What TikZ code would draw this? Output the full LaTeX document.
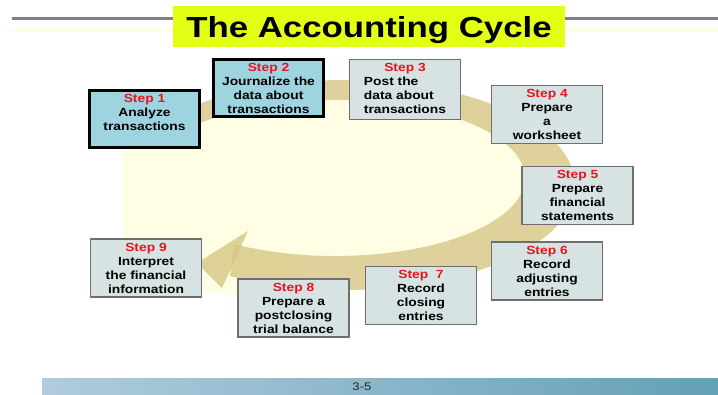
\documentclass[tikz,border=0pt]{standalone}
\usepackage{fontspec}
\setmainfont{Liberation Sans}
\newfontfamily\titlefont[FakeStretch=1.2]{Liberation Sans Bold}
\newfontfamily\stepfont[FakeStretch=1.17]{Liberation Sans Bold}
\newfontfamily\footfont[FakeStretch=1.2]{Liberation Sans}
\definecolor{titleyellow}{RGB}{226,255,20}
\definecolor{stepred}{RGB}{230,20,30}
\definecolor{keyblue}{RGB}{158,212,224}
\definecolor{boxgray}{RGB}{214,227,226}
\definecolor{edgegray}{RGB}{110,110,110}
\definecolor{cycletan}{RGB}{214,198,130}
\definecolor{cream}{RGB}{255,253,228}
\definecolor{barleft}{RGB}{176,204,222}
\definecolor{barright}{RGB}{100,160,182}
\newcommand{\stepno}[1]{\textcolor{stepred}{#1}}

\begin{document}
\begin{tikzpicture}[x=1pt, y=-1pt,
    stepbox/.style={draw=edgegray, line width=1.5pt, fill=boxgray, minimum width=111pt, minimum height=58pt, align=center, inner sep=2pt, font=\stepfont\fontsize{11.8}{14}\selectfont},
    keybox/.style={stepbox, draw=black, line width=3pt, fill=keyblue, minimum width=110pt, minimum height=57pt}]
\useasboundingbox (0,0) rectangle (718,394);

% title line and box
\fill[cream] (12,28) rectangle (718,32);
\draw[gray, line width=3.5pt] (12,18.5) -- (718,18.5);
\node[fill=titleyellow, minimum width=392pt, minimum height=41pt, inner sep=0pt, text height=21pt, text depth=0pt, font=\titlefont\fontsize{29}{31}\selectfont] (title) at (369,26.5) {The Accounting Cycle};

% background and cycle arrow
\begin{scope}
  \clip (123,0) rectangle (300,394);
  \fill[cream] (330,210) ellipse [x radius=300, y radius=90];
\end{scope}
\fill[cream] (335,178) ellipse [x radius=190, y radius=78];
\fill[cycletan, fill opacity=0.8] (345,185) ++(231:230 and 105)
  arc[start angle=231, end angle=480, x radius=230, y radius=105]
  -- ([shift={(335,178)}]482:190 and 78)
  arc[start angle=482, end angle=225, x radius=190, y radius=78] -- cycle;
\fill[cycletan, fill opacity=0.8] (248,231) -- (222,288) -- (197,263) -- cycle;

% the nine steps
\node[keybox, text depth=12pt] (s1) at (144.5,118.5) {\stepno{Step 1}\\Analyze\\transactions};
\node[keybox] (s2) at (268.5,88) {\stepno{Step 2}\\Journalize the\\data about\\transactions};
\node[stepbox] (s3) at (405,89.5) {\begin{tabular}{@{}l@{}}\multicolumn{1}{@{}c@{}}{\stepno{Step 3}}\\Post the\\data about\\transactions\end{tabular}};
\node[stepbox] (s4) at (547,114.5) {\stepno{Step 4}\\Prepare\\a\\worksheet};
\node[stepbox] (s5) at (577.5,195.5) {\stepno{Step 5}\\Prepare\\financial\\statements};
\node[stepbox] (s6) at (547,271) {\stepno{Step 6}\\Record\\adjusting\\entries};
\node[stepbox] (s7) at (421,295.5) {\stepno{Step~~7}\\Record\\closing\\entries};
\node[stepbox] (s8) at (293.5,308) {\stepno{Step 8}\\Prepare a\\postclosing\\trial balance};
\node[stepbox] (s9) at (146,268) {\stepno{Step 9}\\Interpret\\the financial\\information};

% footer
\shade[left color=barleft, right color=barright] (42,378) rectangle (718,394);
\node[font=\footfont\fontsize{11}{13}\selectfont, text=black!85] (page) at (362,386.5) {3-5};
\end{tikzpicture}
\end{document}
